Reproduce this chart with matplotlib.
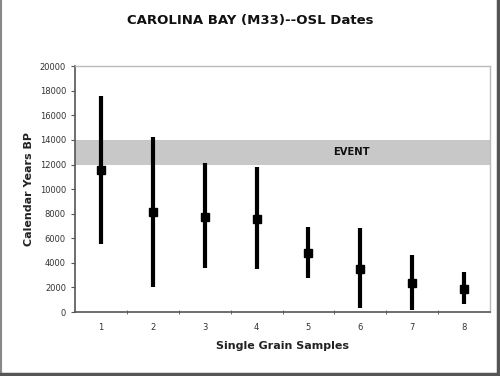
import matplotlib
matplotlib.use("Agg")
import matplotlib.pyplot as plt
from matplotlib.lines import Line2D

samples = [1, 2, 3, 4, 5, 6, 7, 8]
ages = [11550, 8100, 7750, 7550, 4770, 3500, 2330, 1840]
upper = [17600, 14250, 12100, 11760, 6940, 6860, 4630, 3220]
lower = [5500, 2000, 3550, 3470, 2790, 300, 160, 650]
event_low, event_high = 12000, 14000
yticks = list(range(0, 20001, 2000))

fig = plt.figure(figsize=(5, 3.76), dpi=100)
ax = fig.add_axes([0.15, 0.170, 0.83, 0.654])

ax.axhspan(event_low, event_high, color="#c8c8c8", zorder=0, lw=0)
ax.text(5.82, (event_low + event_high) / 2, "EVENT", ha="center", va="center",
        fontsize=8, fontweight="bold", color="#111111", fontstretch="condensed")

yerr = [[a - l for a, l in zip(ages, lower)], [u - a for a, u in zip(ages, upper)]]
ax.errorbar(samples, ages, yerr=yerr, fmt="s", color="black", ms=6,
            elinewidth=3, capsize=0, zorder=3)

ax.set_xlim(0.5, 8.5)
ax.set_ylim(0, 20000)
ax.set_yticks(yticks)
ax.set_yticklabels([str(t) for t in yticks], fontsize=6, color="#333333")
ax.set_xticks(samples)
ax.set_xticklabels([str(s) for s in samples], fontsize=6, color="#333333")
ax.tick_params(axis="x", length=0, pad=8)
ax.set_xticks([s + 0.5 for s in samples[:-1]], minor=True)
ax.tick_params(axis="x", which="minor", length=3, direction="inout", color="#555555")
ax.tick_params(axis="y", length=3, color="#555555", direction="out")

for side in ["left", "bottom"]:
    ax.spines[side].set_color("#555555")
    ax.spines[side].set_linewidth(1.2)
for side in ["top", "right"]:
    ax.spines[side].set_color("#bbbbbb")
    ax.spines[side].set_linewidth(1)

ax.set_ylabel("Calendar Years BP", fontsize=8, fontweight="bold", color="#222222", labelpad=4)
ax.set_xlabel("Single Grain Samples", fontsize=8, fontweight="bold", color="#222222", labelpad=6)
fig.text(0.5, 0.945, "CAROLINA BAY (M33)--OSL Dates", ha="center", va="center",
         fontsize=9.5, fontweight="bold", color="#111111")

# chart-area border: light left, dark right and bottom
fig.lines.append(Line2D([0.002, 0.002], [0.0, 1.0], transform=fig.transFigure,
                        color="#888888", lw=1.5))
fig.lines.append(Line2D([0.995, 0.995], [0.0, 1.0], transform=fig.transFigure,
                        color="#555555", lw=2.5))
fig.lines.append(Line2D([0.0, 1.0], [0.006, 0.006], transform=fig.transFigure,
                        color="#555555", lw=2.5))

fig.savefig("out.png", dpi=100)
